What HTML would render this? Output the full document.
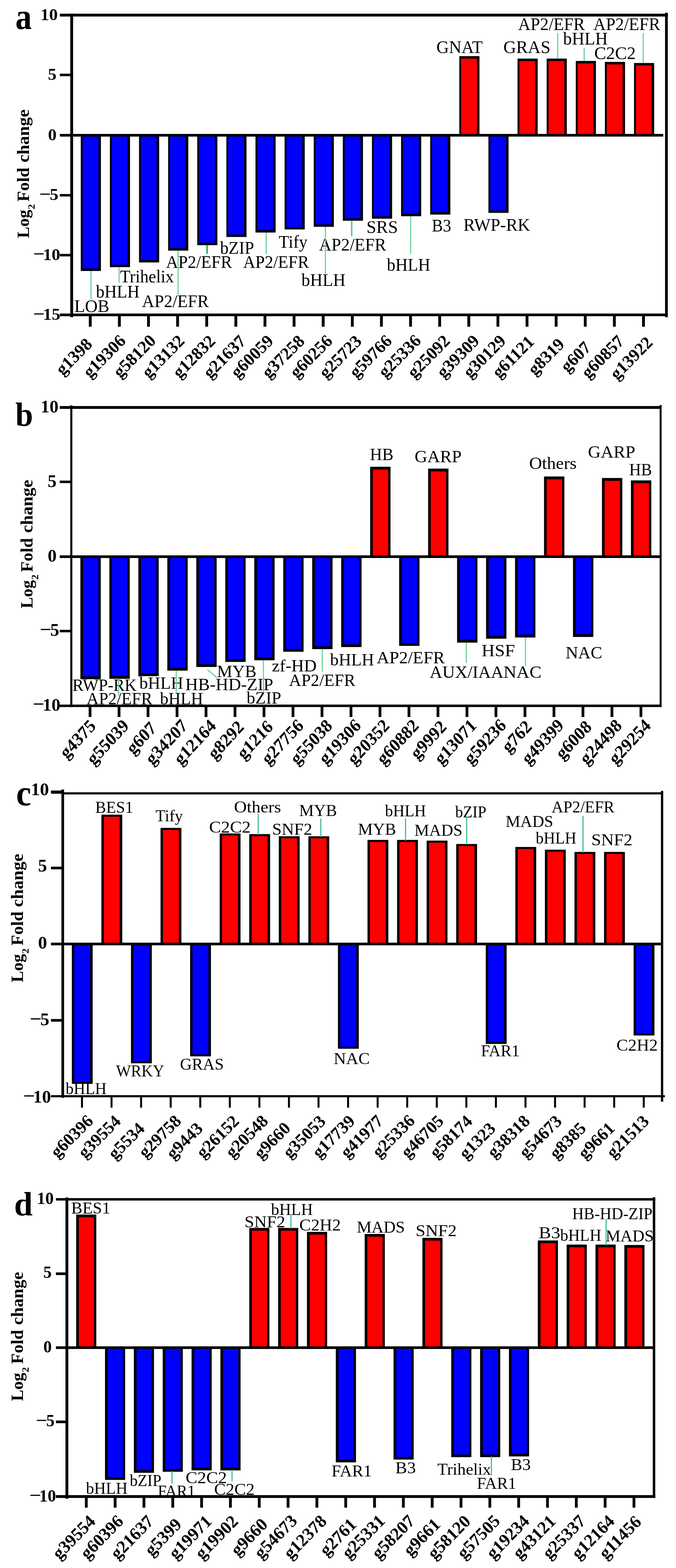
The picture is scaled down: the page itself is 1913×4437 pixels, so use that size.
<!DOCTYPE html>
<html lang="en">
<head>
<meta charset="utf-8">
<title>Log2 fold change of differentially expressed transcription factors</title>
<style>
html,body{margin:0;padding:0;background:#fff;}
body{width:1913px;height:4437px;overflow:hidden;}
svg{display:block;font-family:"Liberation Serif", "DejaVu Serif", serif;}
svg text{fill:#000;}
</style>
</head>
<body>
<svg width="1913" height="4437" viewBox="0 0 1913 4437" role="img" aria-label="Log2 fold change bar charts, panels a to d">
<rect x="0" y="0" width="1913" height="4437" fill="#ffffff"/>
<g id="panel-a">
<g class="bars">
<rect x="228.6" y="382.8" width="57" height="384" fill="#000"/>
<rect x="233.8" y="382.8" width="44.8" height="377" fill="#0000ff"/>
<rect x="311" y="382.8" width="57" height="373.1" fill="#000"/>
<rect x="316.2" y="382.8" width="44.8" height="366.1" fill="#0000ff"/>
<rect x="393.4" y="382.8" width="57" height="359.8" fill="#000"/>
<rect x="398.6" y="382.8" width="44.8" height="352.8" fill="#0000ff"/>
<rect x="475.8" y="382.8" width="57" height="326.4" fill="#000"/>
<rect x="481" y="382.8" width="44.8" height="319.4" fill="#0000ff"/>
<rect x="558.2" y="382.8" width="57" height="310.9" fill="#000"/>
<rect x="563.4" y="382.8" width="44.8" height="303.9" fill="#0000ff"/>
<rect x="640.6" y="382.8" width="57" height="287.8" fill="#000"/>
<rect x="645.8" y="382.8" width="44.8" height="280.8" fill="#0000ff"/>
<rect x="723" y="382.8" width="57" height="275.2" fill="#000"/>
<rect x="728.2" y="382.8" width="44.8" height="268.2" fill="#0000ff"/>
<rect x="805.4" y="382.8" width="57" height="266.5" fill="#000"/>
<rect x="810.6" y="382.8" width="44.8" height="259.5" fill="#0000ff"/>
<rect x="887.8" y="382.8" width="57" height="259" fill="#000"/>
<rect x="893" y="382.8" width="44.8" height="252" fill="#0000ff"/>
<rect x="970.2" y="382.8" width="57" height="241.8" fill="#000"/>
<rect x="975.4" y="382.8" width="44.8" height="234.8" fill="#0000ff"/>
<rect x="1052.6" y="382.8" width="57" height="236" fill="#000"/>
<rect x="1057.8" y="382.8" width="44.8" height="229" fill="#0000ff"/>
<rect x="1135" y="382.8" width="57" height="229.1" fill="#000"/>
<rect x="1140.2" y="382.8" width="44.8" height="222.1" fill="#0000ff"/>
<rect x="1217.4" y="382.8" width="57" height="224.4" fill="#000"/>
<rect x="1222.6" y="382.8" width="44.8" height="217.4" fill="#0000ff"/>
<rect x="1299.8" y="158.8" width="57" height="224" fill="#000"/>
<rect x="1305" y="165.8" width="44.8" height="217" fill="#ff0000"/>
<rect x="1382.2" y="382.8" width="57" height="219.6" fill="#000"/>
<rect x="1387.4" y="382.8" width="44.8" height="212.6" fill="#0000ff"/>
<rect x="1464.6" y="165.8" width="57" height="217" fill="#000"/>
<rect x="1469.8" y="172.8" width="44.8" height="210" fill="#ff0000"/>
<rect x="1547" y="165.8" width="57" height="217" fill="#000"/>
<rect x="1552.2" y="172.8" width="44.8" height="210" fill="#ff0000"/>
<rect x="1629.4" y="172.5" width="57" height="210.3" fill="#000"/>
<rect x="1634.6" y="179.5" width="44.8" height="203.3" fill="#ff0000"/>
<rect x="1711.8" y="175.2" width="57" height="207.6" fill="#000"/>
<rect x="1717" y="182.2" width="44.8" height="200.6" fill="#ff0000"/>
<rect x="1794.2" y="178.3" width="57" height="204.5" fill="#000"/>
<rect x="1799.4" y="185.3" width="44.8" height="197.5" fill="#ff0000"/>
</g>
<g class="axes">
<line x1="202.9" y1="38.5" x2="202.9" y2="897.4" stroke="#000" stroke-width="8"/>
<line x1="1885.9" y1="36" x2="1885.9" y2="897.6" stroke="#000" stroke-width="7.8"/>
<line x1="169.4" y1="42.7" x2="1890.2" y2="42.7" stroke="#000" stroke-width="8"/>
<line x1="169.4" y1="891" x2="1890" y2="891" stroke="#000" stroke-width="7.5"/>
<line x1="169.4" y1="382.8" x2="1877" y2="382.8" stroke="#000" stroke-width="7.5"/>
<line x1="169.4" y1="211.9" x2="202.9" y2="211.9" stroke="#000" stroke-width="7"/>
<line x1="169.4" y1="552.5" x2="202.9" y2="552.5" stroke="#000" stroke-width="7"/>
<line x1="169.4" y1="722" x2="202.9" y2="722" stroke="#000" stroke-width="7"/>
<line x1="255.4" y1="891" x2="255.4" y2="924.5" stroke="#000" stroke-width="8"/>
<line x1="337.8" y1="891" x2="337.8" y2="924.5" stroke="#000" stroke-width="8"/>
<line x1="420.2" y1="891" x2="420.2" y2="924.5" stroke="#000" stroke-width="8"/>
<line x1="502.6" y1="891" x2="502.6" y2="924.5" stroke="#000" stroke-width="8"/>
<line x1="585" y1="891" x2="585" y2="924.5" stroke="#000" stroke-width="8"/>
<line x1="667.4" y1="891" x2="667.4" y2="924.5" stroke="#000" stroke-width="8"/>
<line x1="749.8" y1="891" x2="749.8" y2="924.5" stroke="#000" stroke-width="8"/>
<line x1="832.2" y1="891" x2="832.2" y2="924.5" stroke="#000" stroke-width="8"/>
<line x1="914.6" y1="891" x2="914.6" y2="924.5" stroke="#000" stroke-width="8"/>
<line x1="997" y1="891" x2="997" y2="924.5" stroke="#000" stroke-width="8"/>
<line x1="1079.4" y1="891" x2="1079.4" y2="924.5" stroke="#000" stroke-width="8"/>
<line x1="1161.8" y1="891" x2="1161.8" y2="924.5" stroke="#000" stroke-width="8"/>
<line x1="1244.2" y1="891" x2="1244.2" y2="924.5" stroke="#000" stroke-width="8"/>
<line x1="1326.6" y1="891" x2="1326.6" y2="924.5" stroke="#000" stroke-width="8"/>
<line x1="1409" y1="891" x2="1409" y2="924.5" stroke="#000" stroke-width="8"/>
<line x1="1491.4" y1="891" x2="1491.4" y2="924.5" stroke="#000" stroke-width="8"/>
<line x1="1573.8" y1="891" x2="1573.8" y2="924.5" stroke="#000" stroke-width="8"/>
<line x1="1656.2" y1="891" x2="1656.2" y2="924.5" stroke="#000" stroke-width="8"/>
<line x1="1738.6" y1="891" x2="1738.6" y2="924.5" stroke="#000" stroke-width="8"/>
<line x1="1821" y1="891" x2="1821" y2="924.5" stroke="#000" stroke-width="8"/>
</g>
<g class="ytick-labels" font-size="47" font-weight="bold">
<text x="114.58" y="57.09" textLength="48.88" lengthAdjust="spacingAndGlyphs">10</text>
<text x="135.47" y="225.56" textLength="24.44" lengthAdjust="spacingAndGlyphs">5</text>
<text x="135.72" y="396.59" textLength="24.44" lengthAdjust="spacingAndGlyphs">0</text>
<text x="110.9" y="564.66" textLength="33.34" lengthAdjust="spacingAndGlyphs">−</text>
<text x="140.87" y="566.16" textLength="24.44" lengthAdjust="spacingAndGlyphs">5</text>
<text x="93.66" y="734.19" textLength="33.34" lengthAdjust="spacingAndGlyphs">−</text>
<text x="121.68" y="735.69" textLength="48.88" lengthAdjust="spacingAndGlyphs">10</text>
<text x="93.82" y="903.57" textLength="33.34" lengthAdjust="spacingAndGlyphs">−</text>
<text x="121.83" y="905.07" textLength="48.88" lengthAdjust="spacingAndGlyphs">15</text>
</g>
<g class="gene-labels" font-size="49" text-anchor="middle" font-weight="bold">
<text transform="translate(220.51 1020.47) scale(1 1.0061) rotate(-45)">g1398</text>
<text transform="translate(306.7 1019.57) scale(1 1.0061) rotate(-45)">g19306</text>
<text transform="translate(391.86 1019.21) scale(1 1.0061) rotate(-45)">g58120</text>
<text transform="translate(473.08 1020.21) scale(1 1.0061) rotate(-45)">g13132</text>
<text transform="translate(560.27 1020.47) scale(1 1.0061) rotate(-45)">g12832</text>
<text transform="translate(646.61 1020.79) scale(1 1.0061) rotate(-45)">g21637</text>
<text transform="translate(724.5 1020.03) scale(1 1.0061) rotate(-45)">g60059</text>
<text transform="translate(812.77 1020.47) scale(1 1.0061) rotate(-45)">g37258</text>
<text transform="translate(891.83 1020) scale(1 1.0061) rotate(-45)">g60256</text>
<text transform="translate(974.44 1020.73) scale(1 1.0061) rotate(-45)">g25723</text>
<text transform="translate(1060.19 1019.83) scale(1 1.0061) rotate(-45)">g59766</text>
<text transform="translate(1142.25 1019.09) scale(1 1.0061) rotate(-45)">g25336</text>
<text transform="translate(1224.46 1020.12) scale(1 1.0061) rotate(-45)">g25092</text>
<text transform="translate(1307.42 1019.86) scale(1 1.0061) rotate(-45)">g39309</text>
<text transform="translate(1382.38 1019.86) scale(1 1.0061) rotate(-45)">g30129</text>
<text transform="translate(1463.48 1021.05) scale(1 1.0061) rotate(-45)">g61121</text>
<text transform="translate(1556.85 1020.62) scale(1 1.0061) rotate(-45)">g8319</text>
<text transform="translate(1640.55 1021.15) scale(1 1.0061) rotate(-45)">g607</text>
<text transform="translate(1716.99 1021.01) scale(1 1.0061) rotate(-45)">g60857</text>
<text transform="translate(1797.86 1024.77) scale(1 1.0061) rotate(-45)">g13922</text>
</g>
<g class="tf-labels">
<text x="210.31" y="882.6" font-size="50" textLength="99.12" lengthAdjust="spacingAndGlyphs">LOB</text>
<text x="271.5" y="842.3" font-size="50" textLength="123.52" lengthAdjust="spacingAndGlyphs">bHLH</text>
<text x="339.74" y="799" font-size="50" textLength="152.48" lengthAdjust="spacingAndGlyphs">Trihelix</text>
<text x="401.81" y="869.3" font-size="50" textLength="189" lengthAdjust="spacingAndGlyphs">AP2/EFR</text>
<text x="469.82" y="758.2" font-size="50" textLength="186.99" lengthAdjust="spacingAndGlyphs">AP2/EFR</text>
<text x="622.7" y="718.4" font-size="50" textLength="96.43" lengthAdjust="spacingAndGlyphs">bZIP</text>
<text x="687.92" y="757.6" font-size="50" textLength="186.59" lengthAdjust="spacingAndGlyphs">AP2/EFR</text>
<text x="788.83" y="701" font-size="50" textLength="81.38" lengthAdjust="spacingAndGlyphs">Tify</text>
<text x="902.71" y="708.6" font-size="50" textLength="190.2" lengthAdjust="spacingAndGlyphs">AP2/EFR</text>
<text x="853.1" y="808.8" font-size="50" textLength="124.63" lengthAdjust="spacingAndGlyphs">bHLH</text>
<text x="1037.04" y="659" font-size="50">SRS</text>
<text x="1094.8" y="765.6" font-size="50" textLength="123.12" lengthAdjust="spacingAndGlyphs">bHLH</text>
<text x="1221.89" y="654.5" font-size="50" textLength="54.99" lengthAdjust="spacingAndGlyphs">B3</text>
<text x="1235.04" y="150" font-size="50" textLength="130.98" lengthAdjust="spacingAndGlyphs">GNAT</text>
<text x="1311.62" y="652.6" font-size="50" textLength="188.67" lengthAdjust="spacingAndGlyphs">RWP-RK</text>
<text x="1424.4" y="149.8" font-size="50">GRAS</text>
<text x="1466.31" y="84.7" font-size="50" textLength="188.9" lengthAdjust="spacingAndGlyphs">AP2/EFR</text>
<text x="1593.5" y="125.6" font-size="50" textLength="126.35" lengthAdjust="spacingAndGlyphs">bHLH</text>
<text x="1681.79" y="167" font-size="50" textLength="117.33" lengthAdjust="spacingAndGlyphs">C2C2</text>
<text x="1679.31" y="84.7" font-size="50" textLength="189.1" lengthAdjust="spacingAndGlyphs">AP2/EFR</text>
</g>
<g class="leaders">
<line x1="257.5" y1="766.8" x2="257.5" y2="848" stroke="#66d398" stroke-width="3.2"/>
<line x1="337" y1="755.9" x2="337" y2="800.8" stroke="#66d398" stroke-width="3.2"/>
<line x1="504" y1="709.2" x2="504" y2="833.6" stroke="#66d398" stroke-width="3.2"/>
<line x1="586" y1="693.7" x2="586" y2="718" stroke="#12b24a" stroke-width="4.2"/>
<line x1="753.2" y1="658" x2="753.2" y2="718.4" stroke="#66d398" stroke-width="3.2"/>
<line x1="920.9" y1="641.8" x2="920.9" y2="777.7" stroke="#66d398" stroke-width="3.2"/>
<line x1="995.2" y1="624.6" x2="995.2" y2="668.3" stroke="#5fd092" stroke-width="4.5"/>
<line x1="1162.2" y1="611.9" x2="1162.2" y2="718.4" stroke="#66d398" stroke-width="3.2"/>
<line x1="1578.3" y1="93.3" x2="1578.3" y2="165.8" stroke="#66d398" stroke-width="3.2"/>
<line x1="1653.2" y1="135.4" x2="1653.2" y2="172.5" stroke="#66d398" stroke-width="3.2"/>
<line x1="1820.2" y1="93.3" x2="1820.2" y2="178.3" stroke="#66d398" stroke-width="3.2"/>
</g>
<g class="ylabel" transform="translate(81.6 672.7) rotate(-90)" font-size="48" font-weight="bold">
<text x="-0.72" y="0">Log</text>
<text x="80.31" y="16" font-size="27" textLength="14.88" lengthAdjust="spacingAndGlyphs">2</text>
<text x="102.26" y="0" textLength="96.23" lengthAdjust="spacingAndGlyphs">Fold</text>
<text x="213.05" y="0" textLength="150" lengthAdjust="spacingAndGlyphs">change</text>
</g>
<text x="43.62" y="81.66" font-size="103.75" font-weight="bold" textLength="46.37" lengthAdjust="spacingAndGlyphs">a</text>
</g>
<g id="panel-b">
<g class="bars">
<rect x="227.5" y="1575.3" width="57.6" height="346.6" fill="#000"/>
<rect x="234.9" y="1575.3" width="43.6" height="338.6" fill="#0000ff"/>
<rect x="309.5" y="1575.3" width="57.6" height="345.5" fill="#000"/>
<rect x="316.9" y="1575.3" width="43.6" height="337.5" fill="#0000ff"/>
<rect x="391.5" y="1575.3" width="57.6" height="338" fill="#000"/>
<rect x="398.9" y="1575.3" width="43.6" height="330" fill="#0000ff"/>
<rect x="473.5" y="1575.3" width="57.6" height="322.4" fill="#000"/>
<rect x="480.9" y="1575.3" width="43.6" height="314.4" fill="#0000ff"/>
<rect x="555.5" y="1575.3" width="57.6" height="312.1" fill="#000"/>
<rect x="562.9" y="1575.3" width="43.6" height="304.1" fill="#0000ff"/>
<rect x="637.5" y="1575.3" width="57.6" height="297.8" fill="#000"/>
<rect x="644.9" y="1575.3" width="43.6" height="289.8" fill="#0000ff"/>
<rect x="719.5" y="1575.3" width="57.6" height="293.1" fill="#000"/>
<rect x="726.9" y="1575.3" width="43.6" height="285.1" fill="#0000ff"/>
<rect x="801.5" y="1575.3" width="57.6" height="269" fill="#000"/>
<rect x="808.9" y="1575.3" width="43.6" height="261" fill="#0000ff"/>
<rect x="883.5" y="1575.3" width="57.6" height="261.5" fill="#000"/>
<rect x="890.9" y="1575.3" width="43.6" height="253.5" fill="#0000ff"/>
<rect x="965.5" y="1575.3" width="57.6" height="255.7" fill="#000"/>
<rect x="972.9" y="1575.3" width="43.6" height="247.7" fill="#0000ff"/>
<rect x="1047.5" y="1320.8" width="57.6" height="254.5" fill="#000"/>
<rect x="1054.9" y="1328.8" width="43.6" height="246.5" fill="#ff0000"/>
<rect x="1129.5" y="1575.3" width="57.6" height="252.4" fill="#000"/>
<rect x="1136.9" y="1575.3" width="43.6" height="244.4" fill="#0000ff"/>
<rect x="1211.5" y="1326" width="57.6" height="249.3" fill="#000"/>
<rect x="1218.9" y="1334" width="43.6" height="241.3" fill="#ff0000"/>
<rect x="1293.5" y="1575.3" width="57.6" height="243.1" fill="#000"/>
<rect x="1300.9" y="1575.3" width="43.6" height="235.1" fill="#0000ff"/>
<rect x="1375.5" y="1575.3" width="57.6" height="232.1" fill="#000"/>
<rect x="1382.9" y="1575.3" width="43.6" height="224.1" fill="#0000ff"/>
<rect x="1457.5" y="1575.3" width="57.6" height="228.6" fill="#000"/>
<rect x="1464.9" y="1575.3" width="43.6" height="220.6" fill="#0000ff"/>
<rect x="1539.5" y="1348.3" width="57.6" height="227" fill="#000"/>
<rect x="1546.9" y="1356.3" width="43.6" height="219" fill="#ff0000"/>
<rect x="1621.5" y="1575.3" width="57.6" height="227.1" fill="#000"/>
<rect x="1628.9" y="1575.3" width="43.6" height="219.1" fill="#0000ff"/>
<rect x="1703.5" y="1352.6" width="57.6" height="222.7" fill="#000"/>
<rect x="1710.9" y="1360.6" width="43.6" height="214.7" fill="#ff0000"/>
<rect x="1785.5" y="1359.4" width="57.6" height="215.9" fill="#000"/>
<rect x="1792.9" y="1367.4" width="43.6" height="207.9" fill="#ff0000"/>
</g>
<g class="axes">
<line x1="201.8" y1="1147" x2="201.8" y2="2001" stroke="#000" stroke-width="5.8"/>
<line x1="1869.5" y1="1146" x2="1869.5" y2="2001" stroke="#000" stroke-width="5.5"/>
<line x1="169" y1="1153" x2="1872.2" y2="1153" stroke="#000" stroke-width="8"/>
<line x1="169" y1="1997.3" x2="1872.2" y2="1997.3" stroke="#000" stroke-width="7"/>
<line x1="169" y1="1575.3" x2="1867" y2="1575.3" stroke="#000" stroke-width="7.5"/>
<line x1="169" y1="1363.5" x2="201.8" y2="1363.5" stroke="#000" stroke-width="7"/>
<line x1="169" y1="1785.8" x2="201.8" y2="1785.8" stroke="#000" stroke-width="7"/>
<line x1="254.8" y1="1997.3" x2="254.8" y2="2029" stroke="#000" stroke-width="7.8"/>
<line x1="336.85" y1="1997.3" x2="336.85" y2="2029" stroke="#000" stroke-width="7.8"/>
<line x1="418.9" y1="1997.3" x2="418.9" y2="2029" stroke="#000" stroke-width="7.8"/>
<line x1="500.95" y1="1997.3" x2="500.95" y2="2029" stroke="#000" stroke-width="7.8"/>
<line x1="583" y1="1997.3" x2="583" y2="2029" stroke="#000" stroke-width="7.8"/>
<line x1="665.05" y1="1997.3" x2="665.05" y2="2029" stroke="#000" stroke-width="7.8"/>
<line x1="747.1" y1="1997.3" x2="747.1" y2="2029" stroke="#000" stroke-width="7.8"/>
<line x1="829.15" y1="1997.3" x2="829.15" y2="2029" stroke="#000" stroke-width="7.8"/>
<line x1="911.2" y1="1997.3" x2="911.2" y2="2029" stroke="#000" stroke-width="7.8"/>
<line x1="993.25" y1="1997.3" x2="993.25" y2="2029" stroke="#000" stroke-width="7.8"/>
<line x1="1075.3" y1="1997.3" x2="1075.3" y2="2029" stroke="#000" stroke-width="7.8"/>
<line x1="1157.35" y1="1997.3" x2="1157.35" y2="2029" stroke="#000" stroke-width="7.8"/>
<line x1="1239.4" y1="1997.3" x2="1239.4" y2="2029" stroke="#000" stroke-width="7.8"/>
<line x1="1321.45" y1="1997.3" x2="1321.45" y2="2029" stroke="#000" stroke-width="7.8"/>
<line x1="1403.5" y1="1997.3" x2="1403.5" y2="2029" stroke="#000" stroke-width="7.8"/>
<line x1="1485.55" y1="1997.3" x2="1485.55" y2="2029" stroke="#000" stroke-width="7.8"/>
<line x1="1567.6" y1="1997.3" x2="1567.6" y2="2029" stroke="#000" stroke-width="7.8"/>
<line x1="1649.65" y1="1997.3" x2="1649.65" y2="2029" stroke="#000" stroke-width="7.8"/>
<line x1="1731.7" y1="1997.3" x2="1731.7" y2="2029" stroke="#000" stroke-width="7.8"/>
<line x1="1813.75" y1="1997.3" x2="1813.75" y2="2029" stroke="#000" stroke-width="7.8"/>
</g>
<g class="ytick-labels" font-size="50.5" font-weight="bold">
<text x="115.12" y="1166.84">10</text>
<text x="134.72" y="1377.89">5</text>
<text x="134.97" y="1589.14">0</text>
<text x="112.41" y="1797.79" textLength="33.34" lengthAdjust="spacingAndGlyphs">−</text>
<text x="142.32" y="1799.29">5</text>
<text x="92.63" y="2009.14" textLength="33.34" lengthAdjust="spacingAndGlyphs">−</text>
<text x="120.52" y="2010.64">10</text>
</g>
<g class="gene-labels" font-size="48.2" text-anchor="middle" font-weight="bold">
<text transform="translate(231.09 2103.42) scale(1 1.0788) rotate(-45)">g4375</text>
<text transform="translate(316.23 2112.04) scale(1 1.0788) rotate(-45)">g55039</text>
<text transform="translate(410.96 2100.54) scale(1 1.0788) rotate(-45)">g607</text>
<text transform="translate(482.15 2112.08) scale(1 1.0788) rotate(-45)">g34207</text>
<text transform="translate(562.82 2112.03) scale(1 1.0788) rotate(-45)">g12164</text>
<text transform="translate(650.24 2106.08) scale(1 1.0788) rotate(-45)">g8292</text>
<text transform="translate(732.79 2105.67) scale(1 1.0788) rotate(-45)">g1216</text>
<text transform="translate(810.6 2111.41) scale(1 1.0788) rotate(-45)">g27756</text>
<text transform="translate(892.04 2111.66) scale(1 1.0788) rotate(-45)">g55038</text>
<text transform="translate(973.05 2110.98) scale(1 1.0788) rotate(-45)">g19306</text>
<text transform="translate(1053.74 2111.57) scale(1 1.0788) rotate(-45)">g20352</text>
<text transform="translate(1136.69 2111.57) scale(1 1.0788) rotate(-45)">g60882</text>
<text transform="translate(1223.57 2105.65) scale(1 1.0788) rotate(-45)">g9992</text>
<text transform="translate(1299.96 2111.11) scale(1 1.0788) rotate(-45)">g13071</text>
<text transform="translate(1383.97 2110.51) scale(1 1.0788) rotate(-45)">g59236</text>
<text transform="translate(1473.54 2096.11) scale(1 1.0788) rotate(-45)">g762</text>
<text transform="translate(1546.72 2110.74) scale(1 1.0788) rotate(-45)">g49399</text>
<text transform="translate(1634.35 2105.92) scale(1 1.0788) rotate(-45)">g6008</text>
<text transform="translate(1711.47 2111.29) scale(1 1.0788) rotate(-45)">g24498</text>
<text transform="translate(1793.26 2111.23) scale(1 1.0788) rotate(-45)">g29254</text>
</g>
<g class="tf-labels">
<text x="204.98" y="1955" font-size="49" textLength="181.89" lengthAdjust="spacingAndGlyphs">RWP-RK</text>
<text x="245.12" y="1992.5" font-size="49" textLength="186.09" lengthAdjust="spacingAndGlyphs">AP2/EFR</text>
<text x="394.2" y="1949.3" font-size="49" textLength="124.63" lengthAdjust="spacingAndGlyphs">bHLH</text>
<text x="452.8" y="1992.5" font-size="49" textLength="121.9" lengthAdjust="spacingAndGlyphs">bHLH</text>
<text x="524.61" y="1952.7" font-size="49" textLength="248.57" lengthAdjust="spacingAndGlyphs">HB-HD-ZIP</text>
<text x="614.03" y="1915.7" font-size="49">MYB</text>
<text x="697.8" y="1991" font-size="49">bZIP</text>
<text x="769.56" y="1899.9" font-size="49" textLength="126.59" lengthAdjust="spacingAndGlyphs">zf-HD</text>
<text x="817.82" y="1941" font-size="49" textLength="187.79" lengthAdjust="spacingAndGlyphs">AP2/EFR</text>
<text x="934.1" y="1883" font-size="49" textLength="124.63" lengthAdjust="spacingAndGlyphs">bHLH</text>
<text x="1046.86" y="1301.6" font-size="49" textLength="66.49" lengthAdjust="spacingAndGlyphs">HB</text>
<text x="1066.1" y="1876.5" font-size="49" textLength="192.61" lengthAdjust="spacingAndGlyphs">AP2/EFR</text>
<text x="1173.21" y="1307.6" font-size="49" textLength="132.91" lengthAdjust="spacingAndGlyphs">GARP</text>
<text x="1215.9" y="1918" font-size="49" textLength="209.23" lengthAdjust="spacingAndGlyphs">AUX/IAA</text>
<text x="1362.65" y="1857.3" font-size="49" textLength="94.73" lengthAdjust="spacingAndGlyphs">HSF</text>
<text x="1424.87" y="1918" font-size="49" textLength="107.5" lengthAdjust="spacingAndGlyphs">NAC</text>
<text x="1497.48" y="1326.5" font-size="49" textLength="134.33" lengthAdjust="spacingAndGlyphs">Others</text>
<text x="1600.63" y="1862.5" font-size="49">NAC</text>
<text x="1663.79" y="1294.7" font-size="49" textLength="133.84" lengthAdjust="spacingAndGlyphs">GARP</text>
<text x="1780.41" y="1344.5" font-size="49" textLength="64.58" lengthAdjust="spacingAndGlyphs">HB</text>
</g>
<g class="leaders">
<line x1="335.8" y1="1920.8" x2="335.8" y2="1969.5" stroke="#66d398" stroke-width="3.2"/>
<line x1="498.8" y1="1897.7" x2="498.8" y2="1961" stroke="#66d398" stroke-width="3.2"/>
<line x1="587" y1="1894.5" x2="614" y2="1918" stroke="#66d398" stroke-width="3.2"/>
<line x1="745.5" y1="1868.4" x2="745.5" y2="1960" stroke="#66d398" stroke-width="3.2"/>
<line x1="912" y1="1836.8" x2="912" y2="1900.5" stroke="#66d398" stroke-width="3.2"/>
<line x1="1319.5" y1="1818.4" x2="1319.5" y2="1875.6" stroke="#66d398" stroke-width="3.2"/>
<line x1="1487" y1="1803.9" x2="1487" y2="1884.4" stroke="#66d398" stroke-width="3.2"/>
</g>
<g class="ylabel" transform="translate(92.4 1720.9) rotate(-90)" font-size="48" font-weight="bold">
<text x="-0.72" y="0">Log</text>
<text x="80.31" y="16" font-size="27" textLength="14.88" lengthAdjust="spacingAndGlyphs">2</text>
<text x="102.26" y="0" textLength="96.23" lengthAdjust="spacingAndGlyphs">Fold</text>
<text x="212.84" y="0" textLength="150.51" lengthAdjust="spacingAndGlyphs">change</text>
</g>
<text x="43.4" y="1204.65" font-size="95.04" font-weight="bold" textLength="50" lengthAdjust="spacingAndGlyphs">b</text>
</g>
<g id="panel-c">
<g class="bars">
<rect x="203.3" y="2671.2" width="59" height="395.8" fill="#000"/>
<rect x="210.1" y="2671.2" width="45" height="390.1" fill="#0000ff"/>
<rect x="286.97" y="2305.3" width="59" height="365.9" fill="#000"/>
<rect x="293.77" y="2311" width="45" height="360.2" fill="#ff0000"/>
<rect x="370.64" y="2671.2" width="59" height="337.6" fill="#000"/>
<rect x="377.44" y="2671.2" width="45" height="331.9" fill="#0000ff"/>
<rect x="454.31" y="2342.7" width="59" height="328.5" fill="#000"/>
<rect x="461.11" y="2348.4" width="45" height="322.8" fill="#ff0000"/>
<rect x="537.98" y="2671.2" width="59" height="318" fill="#000"/>
<rect x="544.78" y="2671.2" width="45" height="312.3" fill="#0000ff"/>
<rect x="621.65" y="2358.4" width="59" height="312.8" fill="#000"/>
<rect x="628.45" y="2364.1" width="45" height="307.1" fill="#ff0000"/>
<rect x="705.32" y="2360.3" width="59" height="310.9" fill="#000"/>
<rect x="712.12" y="2366" width="45" height="305.2" fill="#ff0000"/>
<rect x="788.99" y="2366.4" width="59" height="304.8" fill="#000"/>
<rect x="795.79" y="2372.1" width="45" height="299.1" fill="#ff0000"/>
<rect x="872.66" y="2366.4" width="59" height="304.8" fill="#000"/>
<rect x="879.46" y="2372.1" width="45" height="299.1" fill="#ff0000"/>
<rect x="956.33" y="2671.2" width="59" height="296.4" fill="#000"/>
<rect x="963.13" y="2671.2" width="45" height="290.7" fill="#0000ff"/>
<rect x="1040" y="2376.7" width="59" height="294.5" fill="#000"/>
<rect x="1046.8" y="2382.4" width="45" height="288.8" fill="#ff0000"/>
<rect x="1123.67" y="2376.7" width="59" height="294.5" fill="#000"/>
<rect x="1130.47" y="2382.4" width="45" height="288.8" fill="#ff0000"/>
<rect x="1207.34" y="2378.7" width="59" height="292.5" fill="#000"/>
<rect x="1214.14" y="2384.4" width="45" height="286.8" fill="#ff0000"/>
<rect x="1291.01" y="2388.3" width="59" height="282.9" fill="#000"/>
<rect x="1297.81" y="2394" width="45" height="277.2" fill="#ff0000"/>
<rect x="1374.68" y="2671.2" width="59" height="282.8" fill="#000"/>
<rect x="1381.48" y="2671.2" width="45" height="277.1" fill="#0000ff"/>
<rect x="1458.35" y="2396.7" width="59" height="274.5" fill="#000"/>
<rect x="1465.15" y="2402.4" width="45" height="268.8" fill="#ff0000"/>
<rect x="1542.02" y="2404.3" width="59" height="266.9" fill="#000"/>
<rect x="1548.82" y="2410" width="45" height="261.2" fill="#ff0000"/>
<rect x="1625.69" y="2410.7" width="59" height="260.5" fill="#000"/>
<rect x="1632.49" y="2416.4" width="45" height="254.8" fill="#ff0000"/>
<rect x="1709.36" y="2410.7" width="59" height="260.5" fill="#000"/>
<rect x="1716.16" y="2416.4" width="45" height="254.8" fill="#ff0000"/>
<rect x="1793.03" y="2671.2" width="59" height="259" fill="#000"/>
<rect x="1799.83" y="2671.2" width="45" height="253.3" fill="#0000ff"/>
</g>
<g class="axes">
<line x1="177.6" y1="2234" x2="177.6" y2="3106.6" stroke="#000" stroke-width="7.5"/>
<line x1="1873.6" y1="2238" x2="1873.6" y2="3117.5" stroke="#000" stroke-width="6.5"/>
<line x1="177" y1="2245" x2="1877" y2="2245" stroke="#000" stroke-width="6"/>
<line x1="144.3" y1="2241.6" x2="181" y2="2241.6" stroke="#000" stroke-width="9"/>
<line x1="144.3" y1="3102" x2="1881.5" y2="3102" stroke="#000" stroke-width="5.8"/>
<line x1="144.3" y1="2671.2" x2="1873.5" y2="2671.2" stroke="#000" stroke-width="7.5"/>
<line x1="144.3" y1="2456.3" x2="177.6" y2="2456.3" stroke="#000" stroke-width="7.5"/>
<line x1="144.3" y1="2887.3" x2="177.6" y2="2887.3" stroke="#000" stroke-width="7.5"/>
<line x1="232" y1="3102.2" x2="232" y2="3134.3" stroke="#000" stroke-width="5.6"/>
<line x1="315.67" y1="3102.2" x2="315.67" y2="3134.3" stroke="#000" stroke-width="5.6"/>
<line x1="399.34" y1="3102.2" x2="399.34" y2="3134.3" stroke="#000" stroke-width="5.6"/>
<line x1="483.01" y1="3102.2" x2="483.01" y2="3134.3" stroke="#000" stroke-width="5.6"/>
<line x1="566.68" y1="3102.2" x2="566.68" y2="3134.3" stroke="#000" stroke-width="5.6"/>
<line x1="650.35" y1="3102.2" x2="650.35" y2="3134.3" stroke="#000" stroke-width="5.6"/>
<line x1="734.02" y1="3102.2" x2="734.02" y2="3134.3" stroke="#000" stroke-width="5.6"/>
<line x1="817.69" y1="3102.2" x2="817.69" y2="3134.3" stroke="#000" stroke-width="5.6"/>
<line x1="901.36" y1="3102.2" x2="901.36" y2="3134.3" stroke="#000" stroke-width="5.6"/>
<line x1="985.03" y1="3102.2" x2="985.03" y2="3134.3" stroke="#000" stroke-width="5.6"/>
<line x1="1068.7" y1="3102.2" x2="1068.7" y2="3134.3" stroke="#000" stroke-width="5.6"/>
<line x1="1152.37" y1="3102.2" x2="1152.37" y2="3134.3" stroke="#000" stroke-width="5.6"/>
<line x1="1236.04" y1="3102.2" x2="1236.04" y2="3134.3" stroke="#000" stroke-width="5.6"/>
<line x1="1319.71" y1="3102.2" x2="1319.71" y2="3134.3" stroke="#000" stroke-width="5.6"/>
<line x1="1403.38" y1="3102.2" x2="1403.38" y2="3134.3" stroke="#000" stroke-width="5.6"/>
<line x1="1487.05" y1="3102.2" x2="1487.05" y2="3134.3" stroke="#000" stroke-width="5.6"/>
<line x1="1570.72" y1="3102.2" x2="1570.72" y2="3134.3" stroke="#000" stroke-width="5.6"/>
<line x1="1654.39" y1="3102.2" x2="1654.39" y2="3134.3" stroke="#000" stroke-width="5.6"/>
<line x1="1738.06" y1="3102.2" x2="1738.06" y2="3134.3" stroke="#000" stroke-width="5.6"/>
<line x1="1821.73" y1="3102.2" x2="1821.73" y2="3134.3" stroke="#000" stroke-width="5.6"/>
</g>
<g class="ytick-labels" font-size="51" font-weight="bold">
<text x="87.54" y="2249.9">10</text>
<text x="107.59" y="2466.45">5</text>
<text x="107.84" y="2683.7">0</text>
<text x="83.65" y="2899.95" textLength="33.95" lengthAdjust="spacingAndGlyphs">−</text>
<text x="114.09" y="2901.45">5</text>
<text x="65.14" y="3118" textLength="33.95" lengthAdjust="spacingAndGlyphs">−</text>
<text x="93.54" y="3119.5">10</text>
</g>
<g class="gene-labels" font-size="49" text-anchor="middle" font-weight="bold">
<text transform="translate(214.64 3226.89) rotate(-45)">g60396</text>
<text transform="translate(292.49 3227.88) rotate(-45)">g39554</text>
<text transform="translate(368.75 3239.93) rotate(-45)">g5534</text>
<text transform="translate(463.62 3227.1) rotate(-45)">g29758</text>
<text transform="translate(533.53 3239.46) rotate(-45)">g9443</text>
<text transform="translate(627.33 3227.88) rotate(-45)">g26152</text>
<text transform="translate(709.64 3227.1) rotate(-45)">g20548</text>
<text transform="translate(781.53 3238.55) rotate(-45)">g9660</text>
<text transform="translate(872.3 3227.79) rotate(-45)">g35053</text>
<text transform="translate(955.34 3227.45) rotate(-45)">g17739</text>
<text transform="translate(1034.99 3227.19) rotate(-45)">g41977</text>
<text transform="translate(1124.93 3226.24) rotate(-45)">g25336</text>
<text transform="translate(1206.33 3227.32) rotate(-45)">g46705</text>
<text transform="translate(1287.59 3227.88) rotate(-45)">g58174</text>
<text transform="translate(1362.12 3239.37) rotate(-45)">g1323</text>
<text transform="translate(1450.5 3227.27) rotate(-45)">g38318</text>
<text transform="translate(1540.77 3227.62) rotate(-45)">g54673</text>
<text transform="translate(1618.11 3239.03) rotate(-45)">g8385</text>
<text transform="translate(1698.9 3239.02) rotate(-45)">g9661</text>
<text transform="translate(1787.68 3227.7) rotate(-45)">g21513</text>
</g>
<g class="tf-labels">
<text x="185.7" y="3095.7" font-size="46" textLength="115.95" lengthAdjust="spacingAndGlyphs">bHLH</text>
<text x="269.52" y="2299.8" font-size="46">BES1</text>
<text x="328.5" y="3045.6" font-size="46" textLength="136.12" lengthAdjust="spacingAndGlyphs">WRKY</text>
<text x="439.98" y="2324" font-size="46">Tify</text>
<text x="509.34" y="3026.6" font-size="46" textLength="124.17" lengthAdjust="spacingAndGlyphs">GRAS</text>
<text x="591.89" y="2356.3" font-size="46" textLength="117.54" lengthAdjust="spacingAndGlyphs">C2C2</text>
<text x="662.2" y="2299.4" font-size="46" textLength="133.2" lengthAdjust="spacingAndGlyphs">Others</text>
<text x="770.03" y="2362.4" font-size="46" textLength="113.72" lengthAdjust="spacingAndGlyphs">SNF2</text>
<text x="846.49" y="2308.5" font-size="46" textLength="107.29" lengthAdjust="spacingAndGlyphs">MYB</text>
<text x="944.35" y="3011" font-size="46" textLength="102.18" lengthAdjust="spacingAndGlyphs">NAC</text>
<text x="1012.98" y="2362.4" font-size="46" textLength="107.91" lengthAdjust="spacingAndGlyphs">MYB</text>
<text x="1089.6" y="2309.8" font-size="46" textLength="115.84" lengthAdjust="spacingAndGlyphs">bHLH</text>
<text x="1172.79" y="2364.8" font-size="46" textLength="135.82" lengthAdjust="spacingAndGlyphs">MADS</text>
<text x="1288.2" y="2312.8" font-size="46" textLength="87.96" lengthAdjust="spacingAndGlyphs">bZIP</text>
<text x="1361.11" y="2989.2" font-size="46" textLength="109.51" lengthAdjust="spacingAndGlyphs">FAR1</text>
<text x="1431.1" y="2340.4" font-size="46" textLength="134.68" lengthAdjust="spacingAndGlyphs">MADS</text>
<text x="1515.9" y="2386.6" font-size="46" textLength="115.04" lengthAdjust="spacingAndGlyphs">bHLH</text>
<text x="1561.04" y="2298.7" font-size="46" textLength="177.77" lengthAdjust="spacingAndGlyphs">AP2/EFR</text>
<text x="1673.15" y="2391.8" font-size="46" textLength="116.57" lengthAdjust="spacingAndGlyphs">SNF2</text>
<text x="1744.44" y="2972.8" font-size="46" textLength="117.22" lengthAdjust="spacingAndGlyphs">C2H2</text>
</g>
<g class="leaders">
<line x1="730.8" y1="2303.6" x2="730.8" y2="2362.3" stroke="#40bb93" stroke-width="3.2"/>
<line x1="907.7" y1="2315.9" x2="907.7" y2="2368.4" stroke="#40bb93" stroke-width="3.2"/>
<line x1="1147.6" y1="2316" x2="1147.6" y2="2378.7" stroke="#40bb93" stroke-width="3.2"/>
<line x1="1320.6" y1="2311.6" x2="1320.6" y2="2390.3" stroke="#40bb93" stroke-width="3.2"/>
<line x1="1649.9" y1="2308.4" x2="1649.9" y2="2412.7" stroke="#40bb93" stroke-width="3.2"/>
</g>
<g class="ylabel" transform="translate(64.8 2778.8) rotate(-90)" font-size="48" font-weight="bold">
<text x="-0.72" y="0">Log</text>
<text x="80.31" y="16" font-size="27" textLength="14.88" lengthAdjust="spacingAndGlyphs">2</text>
<text x="103.26" y="0" textLength="96.23" lengthAdjust="spacingAndGlyphs">Fold</text>
<text x="212.04" y="0" textLength="151.02" lengthAdjust="spacingAndGlyphs">change</text>
</g>
<text x="45.75" y="2279.46" font-size="103.75" font-weight="bold" textLength="42.42" lengthAdjust="spacingAndGlyphs">c</text>
</g>
<g id="panel-d">
<g class="bars">
<rect x="215.5" y="3436.8" width="57" height="376.7" fill="#000"/>
<rect x="223.1" y="3444.4" width="42.9" height="369.1" fill="#ff0000"/>
<rect x="297.15" y="3813.5" width="57" height="374.2" fill="#000"/>
<rect x="304.75" y="3813.5" width="42.9" height="366.6" fill="#0000ff"/>
<rect x="378.8" y="3813.5" width="57" height="354.1" fill="#000"/>
<rect x="386.4" y="3813.5" width="42.9" height="346.5" fill="#0000ff"/>
<rect x="460.45" y="3813.5" width="57" height="351.2" fill="#000"/>
<rect x="468.05" y="3813.5" width="42.9" height="343.6" fill="#0000ff"/>
<rect x="542.1" y="3813.5" width="57" height="347.2" fill="#000"/>
<rect x="549.7" y="3813.5" width="42.9" height="339.6" fill="#0000ff"/>
<rect x="623.75" y="3813.5" width="57" height="347.3" fill="#000"/>
<rect x="631.35" y="3813.5" width="42.9" height="339.7" fill="#0000ff"/>
<rect x="705.4" y="3474.7" width="57" height="338.8" fill="#000"/>
<rect x="713" y="3482.3" width="42.9" height="331.2" fill="#ff0000"/>
<rect x="787.05" y="3474.7" width="57" height="338.8" fill="#000"/>
<rect x="794.65" y="3482.3" width="42.9" height="331.2" fill="#ff0000"/>
<rect x="868.7" y="3485.8" width="57" height="327.7" fill="#000"/>
<rect x="876.3" y="3493.4" width="42.9" height="320.1" fill="#ff0000"/>
<rect x="950.35" y="3813.5" width="57" height="324.6" fill="#000"/>
<rect x="957.95" y="3813.5" width="42.9" height="317" fill="#0000ff"/>
<rect x="1032" y="3491.8" width="57" height="321.7" fill="#000"/>
<rect x="1039.6" y="3499.4" width="42.9" height="314.1" fill="#ff0000"/>
<rect x="1113.65" y="3813.5" width="57" height="316.7" fill="#000"/>
<rect x="1121.25" y="3813.5" width="42.9" height="309.1" fill="#0000ff"/>
<rect x="1195.3" y="3502.8" width="57" height="310.7" fill="#000"/>
<rect x="1202.9" y="3510.4" width="42.9" height="303.1" fill="#ff0000"/>
<rect x="1276.95" y="3813.5" width="57" height="309.8" fill="#000"/>
<rect x="1284.55" y="3813.5" width="42.9" height="302.2" fill="#0000ff"/>
<rect x="1358.6" y="3813.5" width="57" height="309.8" fill="#000"/>
<rect x="1366.2" y="3813.5" width="42.9" height="302.2" fill="#0000ff"/>
<rect x="1440.25" y="3813.5" width="57" height="307.8" fill="#000"/>
<rect x="1447.85" y="3813.5" width="42.9" height="300.2" fill="#0000ff"/>
<rect x="1521.9" y="3510.2" width="57" height="303.3" fill="#000"/>
<rect x="1529.5" y="3517.8" width="42.9" height="295.7" fill="#ff0000"/>
<rect x="1603.55" y="3521.8" width="57" height="291.7" fill="#000"/>
<rect x="1611.15" y="3529.4" width="42.9" height="284.1" fill="#ff0000"/>
<rect x="1685.2" y="3521.8" width="57" height="291.7" fill="#000"/>
<rect x="1692.8" y="3529.4" width="42.9" height="284.1" fill="#ff0000"/>
<rect x="1766.85" y="3523" width="57" height="290.5" fill="#000"/>
<rect x="1774.45" y="3530.6" width="42.9" height="282.9" fill="#ff0000"/>
</g>
<g class="axes">
<line x1="189.3" y1="3388.4" x2="189.3" y2="4241" stroke="#000" stroke-width="8"/>
<line x1="1850.8" y1="3388" x2="1850.8" y2="4238.5" stroke="#000" stroke-width="7"/>
<line x1="158.3" y1="3393.7" x2="1854.3" y2="3393.7" stroke="#000" stroke-width="7"/>
<line x1="158.3" y1="4234.8" x2="1854.5" y2="4234.8" stroke="#000" stroke-width="8"/>
<line x1="158.3" y1="3813.5" x2="1850.8" y2="3813.5" stroke="#000" stroke-width="7.5"/>
<line x1="158.3" y1="3604.3" x2="189.3" y2="3604.3" stroke="#000" stroke-width="7.5"/>
<line x1="158.3" y1="4023.5" x2="189.3" y2="4023.5" stroke="#000" stroke-width="7.5"/>
<line x1="244.2" y1="4234.7" x2="244.2" y2="4266.3" stroke="#000" stroke-width="7.9"/>
<line x1="325.77" y1="4234.7" x2="325.77" y2="4266.3" stroke="#000" stroke-width="7.9"/>
<line x1="407.34" y1="4234.7" x2="407.34" y2="4266.3" stroke="#000" stroke-width="7.9"/>
<line x1="488.91" y1="4234.7" x2="488.91" y2="4266.3" stroke="#000" stroke-width="7.9"/>
<line x1="570.48" y1="4234.7" x2="570.48" y2="4266.3" stroke="#000" stroke-width="7.9"/>
<line x1="652.05" y1="4234.7" x2="652.05" y2="4266.3" stroke="#000" stroke-width="7.9"/>
<line x1="733.62" y1="4234.7" x2="733.62" y2="4266.3" stroke="#000" stroke-width="7.9"/>
<line x1="815.19" y1="4234.7" x2="815.19" y2="4266.3" stroke="#000" stroke-width="7.9"/>
<line x1="896.76" y1="4234.7" x2="896.76" y2="4266.3" stroke="#000" stroke-width="7.9"/>
<line x1="978.33" y1="4234.7" x2="978.33" y2="4266.3" stroke="#000" stroke-width="7.9"/>
<line x1="1059.9" y1="4234.7" x2="1059.9" y2="4266.3" stroke="#000" stroke-width="7.9"/>
<line x1="1141.47" y1="4234.7" x2="1141.47" y2="4266.3" stroke="#000" stroke-width="7.9"/>
<line x1="1223.04" y1="4234.7" x2="1223.04" y2="4266.3" stroke="#000" stroke-width="7.9"/>
<line x1="1304.61" y1="4234.7" x2="1304.61" y2="4266.3" stroke="#000" stroke-width="7.9"/>
<line x1="1386.18" y1="4234.7" x2="1386.18" y2="4266.3" stroke="#000" stroke-width="7.9"/>
<line x1="1467.75" y1="4234.7" x2="1467.75" y2="4266.3" stroke="#000" stroke-width="7.9"/>
<line x1="1549.32" y1="4234.7" x2="1549.32" y2="4266.3" stroke="#000" stroke-width="7.9"/>
<line x1="1630.89" y1="4234.7" x2="1630.89" y2="4266.3" stroke="#000" stroke-width="7.9"/>
<line x1="1712.46" y1="4234.7" x2="1712.46" y2="4266.3" stroke="#000" stroke-width="7.9"/>
<line x1="1794.03" y1="4234.7" x2="1794.03" y2="4266.3" stroke="#000" stroke-width="7.9"/>
</g>
<g class="ytick-labels" font-size="47.5" font-weight="bold">
<text x="104.5" y="3406.96">10</text>
<text x="122.61" y="3616.12">5</text>
<text x="122.85" y="3826.86">0</text>
<text x="100.79" y="4034.62" textLength="33.34" lengthAdjust="spacingAndGlyphs">−</text>
<text x="130.81" y="4036.12">5</text>
<text x="82.87" y="4247.06" textLength="33.34" lengthAdjust="spacingAndGlyphs">−</text>
<text x="111" y="4248.56">10</text>
</g>
<g class="gene-labels" font-size="49.4" text-anchor="middle" font-weight="bold">
<text transform="translate(220.4 4361.58) scale(1 1.0202) rotate(-45)">g39554</text>
<text transform="translate(299.6 4361.22) scale(1 1.0202) rotate(-45)">g60396</text>
<text transform="translate(384.92 4361.66) scale(1 1.0202) rotate(-45)">g21637</text>
<text transform="translate(472.99 4361.25) scale(1 1.0202) rotate(-45)">g5399</text>
<text transform="translate(549.88 4361.41) scale(1 1.0202) rotate(-45)">g19971</text>
<text transform="translate(624.41 4361.59) scale(1 1.0202) rotate(-45)">g19902</text>
<text transform="translate(716.58 4360.98) scale(1 1.0202) rotate(-45)">g9660</text>
<text transform="translate(791.62 4359.99) scale(1 1.0202) rotate(-45)">g54673</text>
<text transform="translate(874.87 4360.87) scale(1 1.0202) rotate(-45)">g12378</text>
<text transform="translate(967.88 4361.15) scale(1 1.0202) rotate(-45)">g2761</text>
<text transform="translate(1039.91 4360.07) scale(1 1.0202) rotate(-45)">g25331</text>
<text transform="translate(1124.03 4360.74) scale(1 1.0202) rotate(-45)">g58207</text>
<text transform="translate(1205.22 4361.24) scale(1 1.0202) rotate(-45)">g9661</text>
<text transform="translate(1282.14 4361.32) scale(1 1.0202) rotate(-45)">g58120</text>
<text transform="translate(1365.69 4360.5) scale(1 1.0202) rotate(-45)">g57505</text>
<text transform="translate(1448.38 4360.88) scale(1 1.0202) rotate(-45)">g19234</text>
<text transform="translate(1523.11 4360.84) scale(1 1.0202) rotate(-45)">g43121</text>
<text transform="translate(1607.44 4360.83) scale(1 1.0202) rotate(-45)">g25337</text>
<text transform="translate(1689.67 4361.24) scale(1 1.0202) rotate(-45)">g12164</text>
<text transform="translate(1766.28 4361.93) scale(1 1.0202) rotate(-45)">g11456</text>
</g>
<g class="tf-labels">
<text x="201.57" y="3434" font-size="47" textLength="111.04" lengthAdjust="spacingAndGlyphs">BES1</text>
<text x="243.2" y="4227.3" font-size="47" textLength="117.76" lengthAdjust="spacingAndGlyphs">bHLH</text>
<text x="367.2" y="4205.2" font-size="47" textLength="89.39" lengthAdjust="spacingAndGlyphs">bZIP</text>
<text x="446.46" y="4235.4" font-size="47" textLength="106.08" lengthAdjust="spacingAndGlyphs">FAR1</text>
<text x="525.2" y="4197" font-size="47" textLength="116.91" lengthAdjust="spacingAndGlyphs">C2C2</text>
<text x="605.94" y="4230" font-size="47" textLength="114.51" lengthAdjust="spacingAndGlyphs">C2C2</text>
<text x="691.68" y="3473.4" font-size="47" textLength="115.62" lengthAdjust="spacingAndGlyphs">SNF2</text>
<text x="767.1" y="3438" font-size="47" textLength="118.27" lengthAdjust="spacingAndGlyphs">bHLH</text>
<text x="847.14" y="3482" font-size="47" textLength="117.33" lengthAdjust="spacingAndGlyphs">C2H2</text>
<text x="938.26" y="4177.8" font-size="47" textLength="114.09" lengthAdjust="spacingAndGlyphs">FAR1</text>
<text x="1009.79" y="3488" font-size="47">MADS</text>
<text x="1118.7" y="4168.7" font-size="47" textLength="58.19" lengthAdjust="spacingAndGlyphs">B3</text>
<text x="1176.37" y="3497.6" font-size="47" textLength="115.94" lengthAdjust="spacingAndGlyphs">SNF2</text>
<text x="1237.75" y="4172.8" font-size="47" textLength="151.88" lengthAdjust="spacingAndGlyphs">Trihelix</text>
<text x="1349.59" y="4213.2" font-size="47">FAR1</text>
<text x="1445.75" y="4160" font-size="47" textLength="56.38" lengthAdjust="spacingAndGlyphs">B3</text>
<text x="1524.63" y="3503.5" font-size="47" textLength="61.18" lengthAdjust="spacingAndGlyphs">B3</text>
<text x="1585.2" y="3511" font-size="47" textLength="116.35" lengthAdjust="spacingAndGlyphs">bHLH</text>
<text x="1619.24" y="3450.4" font-size="47" textLength="227.37" lengthAdjust="spacingAndGlyphs">HB-HD-ZIP</text>
<text x="1714.09" y="3513.3" font-size="47">MADS</text>
</g>
<g class="leaders">
<line x1="486.8" y1="4162.7" x2="486.8" y2="4198" stroke="#40bb93" stroke-width="3.2"/>
<line x1="656.7" y1="4158.8" x2="656.7" y2="4191.3" stroke="#40bb93" stroke-width="3.2"/>
<line x1="823.2" y1="3436.7" x2="823.2" y2="3476.7" stroke="#40bb93" stroke-width="3.2"/>
<line x1="1390.6" y1="4121.3" x2="1390.6" y2="4174.7" stroke="#40bb93" stroke-width="3.2"/>
<line x1="1715.3" y1="3450.4" x2="1715.3" y2="3523.8" stroke="#40bb93" stroke-width="3.2"/>
</g>
<g class="ylabel" transform="translate(64.8 3963.7) rotate(-90)" font-size="48" font-weight="bold">
<text x="-0.72" y="0">Log</text>
<text x="80.31" y="16" font-size="27" textLength="14.88" lengthAdjust="spacingAndGlyphs">2</text>
<text x="104.26" y="0" textLength="96.23" lengthAdjust="spacingAndGlyphs">Fold</text>
<text x="214.55" y="0" textLength="150" lengthAdjust="spacingAndGlyphs">change</text>
</g>
<text x="39.93" y="3438.84" font-size="96.03" font-weight="bold" textLength="52.42" lengthAdjust="spacingAndGlyphs">d</text>
</g>
</svg>
</body>
</html>
